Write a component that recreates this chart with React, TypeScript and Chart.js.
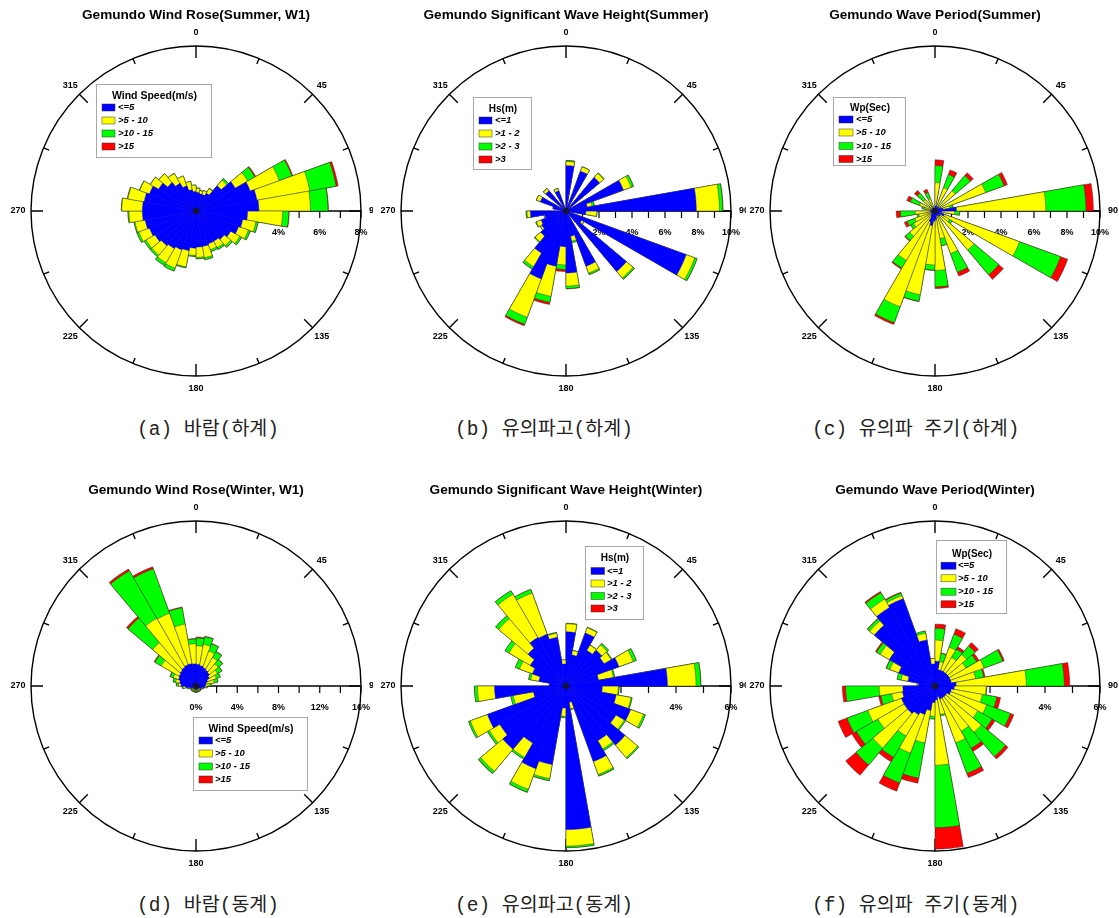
import React, { useEffect, useRef } from "react";
import { Chart, registerables } from "chart.js";

Chart.register(...registerables);

// ---------- categories & labels ----------
const DIRECTION_BINS = ["0","10","20","30","40","50","60","70","80","90","100","110","120","130","140","150","160","170","180","190","200","210","220","230","240","250","260","270","280","290","300","310","320","330","340","350"];
const COMPASS_LABELS = ["0", "45", "90", "135", "180", "225", "270", "315"];
const CLASS_COLORS = ["#0000ff", "#ffff00", "#00ff00", "#ff0000"];

const WIND_CLASSES = ["<=5", ">5 - 10", ">10 - 15", ">15"];
const HS_CLASSES = ["<=1", ">1 - 2", ">2 - 3", ">3"];
const WP_CLASSES = ["<=5", ">5 - 10", ">10 - 15", ">15"];

// ---------- (a) wind, summer (%) ----------
const A_BLUE = [0.90,0.85,0.85,1.00,1.60,2.20,2.80,3.00,3.05,2.50,2.30,2.20,1.95,1.80,1.70,1.70,1.75,1.75,1.80,1.95,2.00,2.10,2.20,2.30,2.40,2.50,2.60,2.60,2.55,2.40,2.10,1.80,1.55,1.30,1.05,0.95];
const A_YELLOW = [0.20,0.15,0.20,0.25,0.35,0.70,1.50,2.60,2.50,1.70,0.65,0.50,0.50,0.40,0.35,0.30,0.55,0.50,0.35,0.80,0.95,0.80,0.60,0.50,0.55,0.50,0.65,1.00,0.80,0.50,0.45,0.55,0.55,0.50,0.40,0.30];
const A_GREEN = [0.02,0.02,0.01,0.03,0.10,0.40,0.65,1.30,0.85,0.30,0.10,0.10,0.10,0.10,0.10,0.10,0.10,0.07,0.05,0.05,0.15,0.15,0.10,0.10,0.10,0.05,0.05,0.02,0.03,0.02,0.01,0.01,0.01,0.01,0.01,0.01];
const A_RED = [0,0,0,0,0.01,0.05,0.05,0.10,0.02,0.02,0.01,0.01,0.01,0.01,0.01,0,0,0,0,0,0,0,0,0,0,0,0,0,0,0,0,0,0,0,0,0];

// ---------- (b) significant wave height, summer (%) ----------
const B_BLUE = [2.75,0,2.57,0,2.65,0,3.70,1.30,7.90,1.20,0,7.75,1.10,4.78,0,3.56,1.55,3.75,2.16,3.40,4.38,2.95,2.00,1.70,1.60,1.30,2.16,0,0.80,1.65,0,1.60,0,1.30,0,0];
const B_YELLOW = [0.25,0,0.27,0,0.33,0,0.50,0.30,1.40,0.66,0,0.55,0.15,0.52,0,0.44,0.30,0.80,1.11,1.85,2.48,0.95,0.45,0.10,0.30,0.05,0.20,0,0,0.25,0,0.18,0,0.15,0,0];
const B_GREEN = [0.05,0,0.02,0,0.04,0,0.15,0.15,0.20,0.02,0,0.15,0.02,0.10,0,0.10,0.10,0.15,0.27,0.37,0.44,0.16,0.05,0.02,0.05,0,0.06,0,0,0.02,0,0.02,0,0.02,0,0];
const B_RED = [0.02,0,0,0,0,0,0.01,0,0.02,0,0,0.01,0,0.01,0,0.01,0,0.02,0.13,0.13,0.10,0.01,0,0,0,0,0,0,0,0,0,0,0,0,0,0];

// ---------- (c) wave period, summer (%) ----------
const C_BLUE = [0.30,0,0.30,0,0.30,0,0.40,0.50,1.30,0.40,0,0.60,0.30,0.40,0,0.30,0.30,0.50,0.60,0.90,0.70,0.40,0.30,0.20,0.20,0.20,0.30,0,0.20,0.20,0,0.20,0,0.20,0,0];
const C_YELLOW = [1.42,0,1.20,0,1.30,0,2.87,0.40,5.42,0.80,0,4.85,0.70,2.69,0,2.45,1.40,3.10,2.67,4.25,5.48,3.06,1.70,1.30,1.10,0.80,0.90,0,0.40,0.80,0,0.70,0,0.60,0,0];
const C_GREEN = [1.03,0,0.85,0,1.20,0,1.18,0.20,2.43,0.30,0,2.65,0.20,1.96,0,1.20,0.44,1.00,0.31,0.40,1.02,0.54,0.35,0.20,0.50,0.10,0.90,0,0.20,0.60,0,0.52,0,0.40,0,0];
const C_RED = [0.35,0,0.30,0,0.23,0,0.22,0.02,0.45,0,0,0.46,0,0.36,0,0.25,0.01,0.10,0.02,0.03,0.12,0.07,0.05,0,0.18,0,0.25,0,0,0.22,0,0.21,0,0.20,0,0];

// ---------- (d) wind, winter (%) ----------
const D_BLUE = [2.10,2.00,1.90,1.80,1.70,1.50,1.20,1.00,0.90,0.85,0.60,0.50,0.30,0.30,0.30,0.30,0.30,0.30,0.30,0.30,0.30,0.30,0.30,0.30,0.30,0.60,1.00,1.45,1.60,1.80,1.90,2.00,2.10,2.20,2.20,2.15];
const D_YELLOW = [1.80,2.10,1.70,1.40,1.10,0.90,0.90,0.80,0.40,0.15,0.15,0.10,0.20,0.20,0.20,0.20,0.20,0.20,0.20,0.20,0.20,0.20,0.20,0.20,0.20,0.15,0.25,0.25,0.40,0.55,2.00,3.50,5.50,5.30,3.90,1.95];
const D_GREEN = [0.75,0.75,0.75,0.65,0.55,0.50,0.40,0.35,0.20,0.10,0.05,0.05,0.10,0.10,0.10,0.10,0.10,0.10,0.10,0.10,0.10,0.10,0.10,0.10,0.10,0.10,0.10,0.20,0.25,0.30,0.70,3.10,5.30,4.60,1.60,0.45];
const D_RED = [0.10,0.05,0.05,0.05,0.05,0.02,0.02,0.02,0,0,0,0,0,0,0,0,0,0,0,0,0,0,0,0,0,0,0,0.02,0.02,0.05,0.10,0.20,0.20,0.20,0.08,0.05];

// ---------- (e) significant wave height, winter (%) ----------
const E_BLUE = [1.97,1.15,2.05,1.50,1.70,1.60,2.05,1.20,3.69,1.32,1.85,2.50,2.10,2.80,2.30,2.92,0.60,5.22,0.80,2.90,3.20,2.40,3.00,2.78,3.04,1.20,2.60,0.60,1.00,1.30,1.50,1.80,2.04,2.00,1.80,0.80];
const E_YELLOW = [0.29,0.16,0.20,0.22,0.25,0.30,0.55,0.55,1.04,0.58,0.55,0.50,0.35,0.60,0.35,0.50,0.25,0.60,0.30,0.52,0.80,0.60,1.05,0.44,0.66,0.75,0.62,0,0.30,0.50,0.90,1.40,1.81,1.60,0.15,0.15];
const E_GREEN = [0.02,0.01,0.02,0.01,0.07,0.03,0.12,0.05,0.17,0.03,0.04,0.07,0.05,0.05,0.07,0.06,0.02,0.06,0.05,0.07,0.11,0.07,0.10,0.08,0.07,0.09,0.11,0,0.08,0.16,0.16,0.14,0.15,0.14,0.03,0];
const E_RED = [0,0,0,0,0,0,0,0,0.01,0,0,0,0,0,0,0.01,0,0,0,0.01,0.01,0,0.01,0,0,0,0,0,0,0,0,0,0,0,0,0];

// ---------- (f) wave period, winter (%) ----------
const F_BLUE = [0.90,0.60,0.60,0.60,0.60,0.60,0.60,0.60,0.77,0.70,0.60,0.60,0.50,0.50,0.50,0.50,0.40,0.50,0.60,0.90,1.10,1.20,1.30,1.30,1.30,1.20,1.17,0.60,1.00,1.40,1.92,2.88,3.30,3.38,1.70,0.80];
const F_YELLOW = [0.77,0.30,0.90,0.60,0.90,0.70,1.30,0.90,2.55,1.16,1.15,1.40,1.30,1.70,1.40,1.70,0.65,2.38,0.50,1.20,1.50,0.90,1.65,1.10,1.30,0.40,0.86,0.05,0.25,0.35,0.38,0.22,0.35,0.12,0.25,0.20];
const F_GREEN = [0.43,0.30,0.50,0.35,0.40,0.45,0.72,0.30,1.38,0.02,0.53,0.92,0.60,1.15,0.72,1.18,0.05,2.27,0.10,1.30,1.15,0.90,0.80,0.90,0.80,0.40,1.22,0,0.15,0.13,0.15,0.10,0.27,0.10,0.08,0];
const F_RED = [0.15,0.02,0.22,0.10,0.16,0.10,0.06,0.05,0.20,0,0.14,0.13,0.12,0.12,0.13,0.16,0,0.78,0,0.19,0.32,0.18,0.49,0.19,0.35,0.08,0.12,0,0,0.02,0.05,0.02,0.05,0.03,0,0];

// ---------- ring (percent) ticks ----------
const A_RING_TICKS = [0,1,2,3,4,5,6,7,8];
const A_RING_LABELS = [0,2,4,6,8];
const BC_RING_TICKS = [0,1,2,3,4,5,6,7,8,9,10];
const BC_RING_LABELS = [0,2,4,6,8,10];
const D_RING_TICKS = [0,2,4,6,8,10,12,14,16];
const D_RING_LABELS = [0,4,8,12,16];
const EF_RING_TICKS = [0,1,2,3,4,5,6];
const EF_RING_LABELS = [0,2,4,6];

// ---------- layout ----------
type LegendBox = { x: number; y: number; w: number; h: number; titleY: number; rows: number[]; swX: number; swW: number; textX: number; titleSize: number };
type Panel = {
  id: string; left: number; top: number; cx: number;
  title: string; legendTitle: string; classes: string[];
  series: number[][]; max: number; ringTicks: number[]; ringLabels: number[];
  legend: LegendBox; caption: string; capLeft: number; capTop: number;
};

const CANVAS_W = 373;
const CANVAS_H = 400;
const CY = 211;
const R = 165;
const FONT = "'Liberation Sans', Arial, Helvetica, sans-serif";

const PANELS: Panel[] = [
  {
    id: "a", left: 0, top: 0, cx: 196,
    title: "Gemundo Wind Rose(Summer, W1)", legendTitle: "Wind Speed(m/s)", classes: WIND_CLASSES,
    series: [A_BLUE, A_YELLOW, A_GREEN, A_RED], max: 8, ringTicks: A_RING_TICKS, ringLabels: A_RING_LABELS,
    legend: { x: 96, y: 84, w: 115, h: 73, titleY: 96.5, rows: [107.5, 120.5, 133.5, 146.5], swX: 102, swW: 13, textX: 118, titleSize: 10.5 },
    caption: "(a) 바람(하계)", capLeft: 137, capTop: 419,
  },
  {
    id: "b", left: 373, top: 0, cx: 193,
    title: "Gemundo Significant Wave Height(Summer)", legendTitle: "Hs(m)", classes: HS_CLASSES,
    series: [B_BLUE, B_YELLOW, B_GREEN, B_RED], max: 10, ringTicks: BC_RING_TICKS, ringLabels: BC_RING_LABELS,
    legend: { x: 100, y: 97, w: 58, h: 72, titleY: 109.5, rows: [120.5, 133.5, 146.5, 159.5], swX: 106, swW: 13, textX: 122, titleSize: 10 },
    caption: "(b) 유의파고(하계)", capLeft: 455, capTop: 419,
  },
  {
    id: "c", left: 746, top: 0, cx: 189,
    title: "Gemundo Wave Period(Summer)", legendTitle: "Wp(Sec)", classes: WP_CLASSES,
    series: [C_BLUE, C_YELLOW, C_GREEN, C_RED], max: 10, ringTicks: BC_RING_TICKS, ringLabels: BC_RING_LABELS,
    legend: { x: 87, y: 97, w: 72, h: 68, titleY: 108.5, rows: [119.5, 132.5, 146, 159], swX: 93, swW: 14, textX: 110, titleSize: 10 },
    caption: "(c) 유의파 주기(하계)", capLeft: 812, capTop: 419,
  },
  {
    id: "d", left: 0, top: 475, cx: 196,
    title: "Gemundo Wind Rose(Winter, W1)", legendTitle: "Wind Speed(m/s)", classes: WIND_CLASSES,
    series: [D_BLUE, D_YELLOW, D_GREEN, D_RED], max: 16, ringTicks: D_RING_TICKS, ringLabels: D_RING_LABELS,
    legend: { x: 193, y: 242, w: 114, h: 73, titleY: 254.5, rows: [265.5, 278.5, 291.5, 304.5], swX: 199, swW: 13.5, textX: 215, titleSize: 10.5 },
    caption: "(d) 바람(동계)", capLeft: 137, capTop: 895,
  },
  {
    id: "e", left: 373, top: 475, cx: 193,
    title: "Gemundo Significant Wave Height(Winter)", legendTitle: "Hs(m)", classes: HS_CLASSES,
    series: [E_BLUE, E_YELLOW, E_GREEN, E_RED], max: 6, ringTicks: EF_RING_TICKS, ringLabels: EF_RING_LABELS,
    legend: { x: 212, y: 71, w: 58, h: 73, titleY: 83.5, rows: [96, 108.5, 121, 133.5], swX: 218, swW: 13.5, textX: 234, titleSize: 10 },
    caption: "(e) 유의파고(동계)", capLeft: 455, capTop: 895,
  },
  {
    id: "f", left: 746, top: 475, cx: 189,
    title: "Gemundo Wave Period(Winter)", legendTitle: "Wp(Sec)", classes: WP_CLASSES,
    series: [F_BLUE, F_YELLOW, F_GREEN, F_RED], max: 6, ringTicks: EF_RING_TICKS, ringLabels: EF_RING_LABELS,
    legend: { x: 190, y: 65, w: 70, h: 73, titleY: 79, rows: [90.7, 103.3, 116.7, 129.3], swX: 195, swW: 15, textX: 212, titleSize: 10 },
    caption: "(f) 유의파 주기(동계)", capLeft: 812, capTop: 895,
  },
];

function stackSeries(series: number[][]): number[][] {
  const out: number[][] = [];
  let run = series[0].map(() => 0);
  for (const s of series) {
    run = run.map((v, i) => +(v + s[i]).toFixed(3));
    out.push(run.slice());
  }
  return out;
}

function makeRosePlugin(p: Panel) {
  return {
    id: "rose_" + p.id,
    beforeDatasetsDraw(chart: any) {
      const s = chart.scales.r;
      const cx = s.xCenter, cy = s.yCenter, rad = s.drawingArea;
      const ctx: CanvasRenderingContext2D = chart.ctx;
      ctx.save();
      // title
      ctx.fillStyle = "#000";
      ctx.font = `bold 13.6px ${FONT}`;
      ctx.textAlign = "center";
      ctx.textBaseline = "middle";
      ctx.fillText(p.title, cx, 15);

      // east radial axis
      ctx.strokeStyle = "#000";
      ctx.lineWidth = 1.3;
      ctx.beginPath();
      ctx.moveTo(cx, cy);
      ctx.lineTo(cx + rad, cy);
      ctx.stroke();
      ctx.lineWidth = 1.2;
      ctx.beginPath();
      for (const v of p.ringTicks) {
        const x = cx + s.getDistanceFromCenterForValue(v);
        ctx.moveTo(x, cy);
        ctx.lineTo(x, cy + 7);
      }
      ctx.stroke();
      ctx.font = `bold 9px ${FONT}`;
      for (const v of p.ringLabels) {
        const x = cx + s.getDistanceFromCenterForValue(v);
        ctx.fillText(v + "%", x, cy + 22);
      }

      // compass ticks
      ctx.lineWidth = 1.4;
      ctx.beginPath();
      for (let k = 0; k < 16; k++) {
        const a = (k * 22.5 * Math.PI) / 180;
        const len = k % 2 === 0 ? 12 : 6;
        const sx = Math.sin(a), sy = -Math.cos(a);
        ctx.moveTo(cx + sx * rad, cy + sy * rad);
        ctx.lineTo(cx + sx * (rad - len), cy + sy * (rad - len));
      }
      ctx.stroke();
      // compass labels
      ctx.font = `bold 9px ${FONT}`;
      COMPASS_LABELS.forEach((lab, i) => {
        const a = (i * 45 * Math.PI) / 180;
        const d = rad + 13;
        ctx.fillText(lab, cx + Math.sin(a) * d, cy - Math.cos(a) * d);
      });
      ctx.restore();
    },
    afterDatasetsDraw(chart: any) {
      const s = chart.scales.r;
      const cx = s.xCenter, cy = s.yCenter;
      const ctx: CanvasRenderingContext2D = chart.ctx;
      ctx.save();
      // center mark
      ctx.fillStyle = "#151530";
      ctx.beginPath();
      ctx.arc(cx, cy, 3.2, 0, Math.PI * 2);
      ctx.fill();

      // legend box
      const L = p.legend;
      ctx.fillStyle = "#fff";
      ctx.fillRect(L.x, L.y, L.w, L.h);
      ctx.strokeStyle = "#a8a8a8";
      ctx.lineWidth = 1;
      ctx.strokeRect(L.x + 0.5, L.y + 0.5, L.w, L.h);
      ctx.fillStyle = "#000";
      ctx.font = `bold ${L.titleSize}px ${FONT}`;
      ctx.textAlign = "center";
      ctx.textBaseline = "middle";
      ctx.fillText(p.legendTitle, L.x + L.w / 2 + 1, L.titleY);
      p.classes.forEach((c, i) => {
        const y = L.rows[i];
        ctx.fillStyle = CLASS_COLORS[i];
        ctx.fillRect(L.swX, y - 3.5, L.swW, 7);
        ctx.strokeStyle = "#333";
        ctx.lineWidth = 0.5;
        ctx.strokeRect(L.swX, y - 3.5, L.swW, 7);
        ctx.fillStyle = "#000";
        ctx.font = `italic bold 9.5px ${FONT}`;
        ctx.textAlign = "left";
        ctx.fillText(c, L.textX, y);
      });
      ctx.restore();
    },
  };
}

function RosePanel({ p }: { p: Panel }) {
  const ref = useRef<HTMLCanvasElement | null>(null);
  useEffect(() => {
    if (!ref.current) return;
    const stacked = stackSeries(p.series);
    const edge = "rgba(40,40,40,0.75)";
    const datasets = p.classes.map((label, i) => ({
      label,
      data: stacked[i],
      backgroundColor: CLASS_COLORS[i],
      borderColor: i === 0 ? CLASS_COLORS[0] : edge,
      borderWidth: i === 0 ? 0.4 : 0.6,
    }));
    const chart = new Chart(ref.current, {
      type: "polarArea",
      data: { labels: DIRECTION_BINS, datasets },
      plugins: [makeRosePlugin(p)],
      options: {
        responsive: false,
        animation: false,
        devicePixelRatio: 1,
        events: [],
        layout: {
          padding: {
            left: p.cx - R,
            top: CY - R,
            right: CANVAS_W - (p.cx + R),
            bottom: CANVAS_H - (CY + R),
          },
        },
        plugins: {
          legend: { display: false },
          title: { display: false },
          tooltip: { enabled: false },
        },
        scales: {
          r: {
            min: 0,
            max: p.max,
            startAngle: 0,
            ticks: { display: false, stepSize: p.ringTicks[1] - p.ringTicks[0] },
            grid: {
              display: true,
              circular: true,
              lineWidth: 1.4,
              color: (c: any) => (c.tick && c.tick.value === p.max ? "#000" : "rgba(0,0,0,0)"),
            },
            angleLines: { display: false },
            pointLabels: { display: false },
          },
        },
      } as any,
    });
    return () => chart.destroy();
  }, [p]);
  return (
    <canvas
      ref={ref}
      width={CANVAS_W}
      height={CANVAS_H}
      style={{ position: "absolute", left: p.left, top: p.top, width: CANVAS_W, height: CANVAS_H, display: "block" }}
    />
  );
}

export default function App() {
  return (
    <div
      style={{
        position: "absolute",
        left: 0,
        top: 0,
        width: 1119,
        height: 918,
        background: "#fff",
        overflow: "hidden",
      }}
    >
      {PANELS.map((p) => (
        <RosePanel key={p.id} p={p} />
      ))}
      {PANELS.map((p) => (
        <div
          key={"cap" + p.id}
          style={{
            position: "absolute",
            left: p.capLeft,
            top: p.capTop,
            fontFamily: "'Liberation Mono', 'Noto Sans CJK KR', monospace",
            fontSize: 19.5,
            lineHeight: "22px",
            color: "#222",
            whiteSpace: "pre",
          }}
        >
          {p.caption}
        </div>
      ))}
    </div>
  );
}
